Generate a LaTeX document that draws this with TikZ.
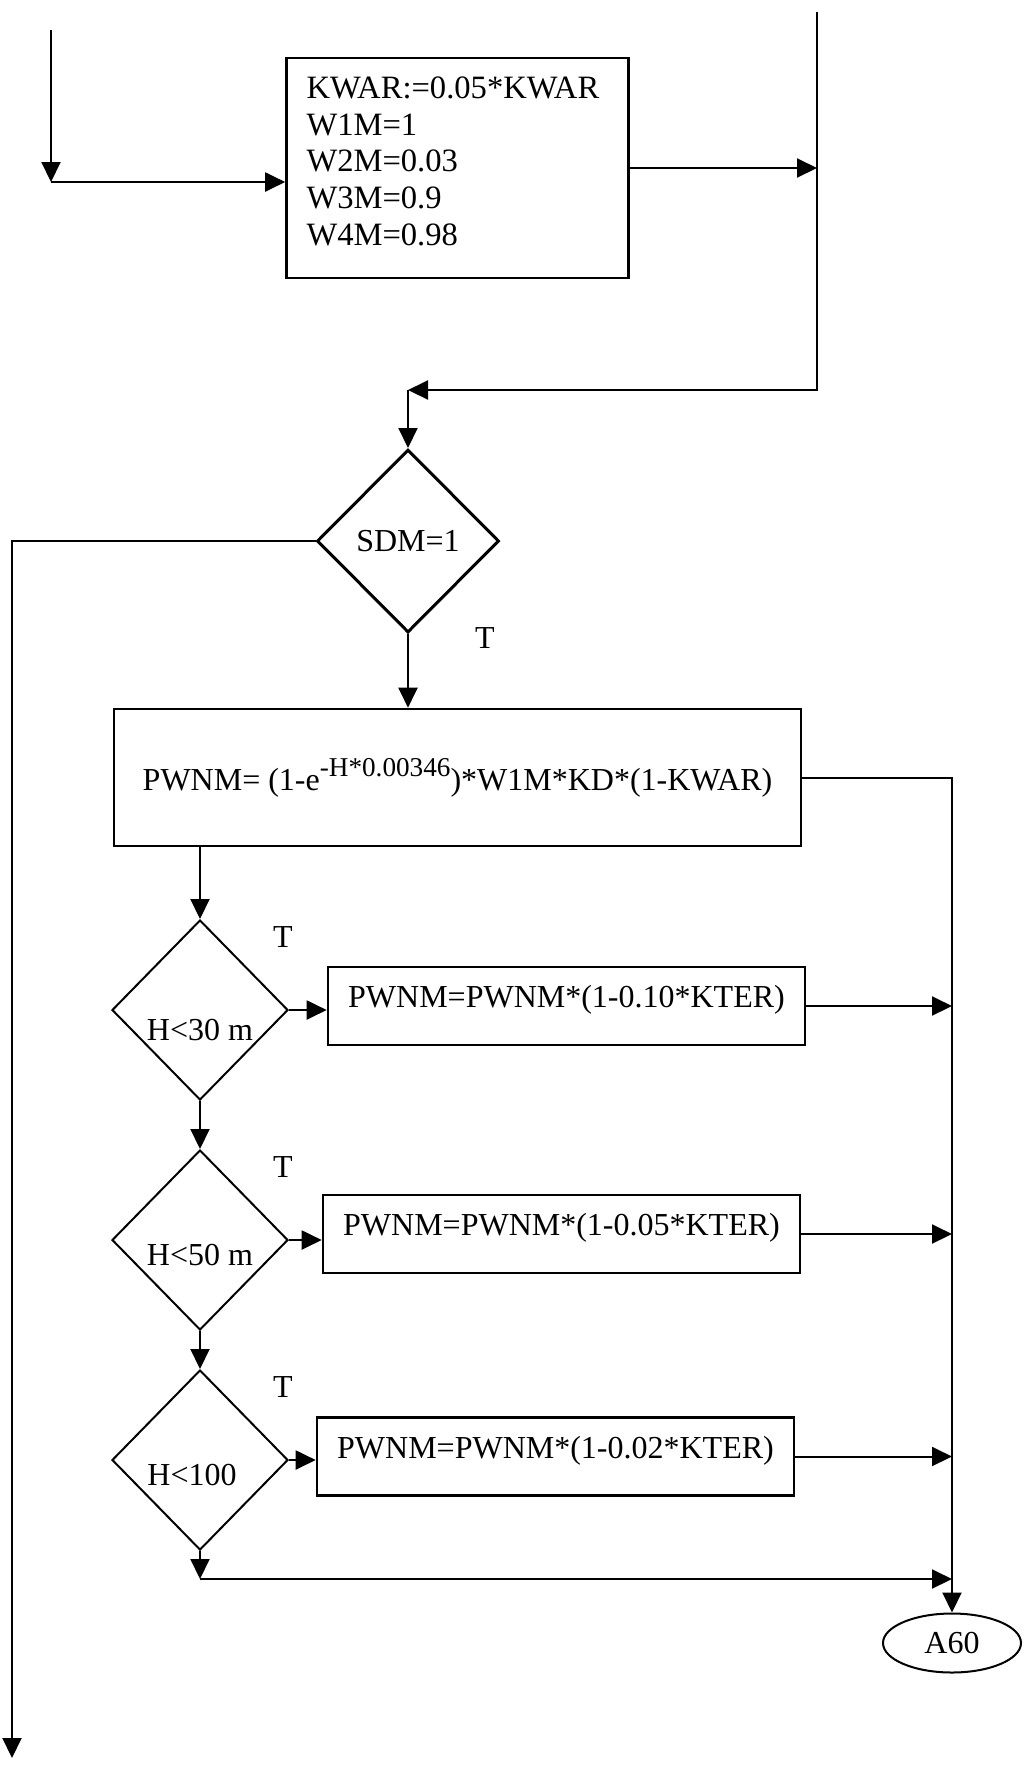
\documentclass[tikz,border=0pt]{standalone}
\usepackage{fontspec}
\setmainfont{Liberation Serif}
\usetikzlibrary{arrows.meta,positioning,shapes.geometric}
\newcommand{\liftby}[2]{\raisebox{#1}[\height][\depth]{#2}}

\begin{document}
\begin{tikzpicture}[x={(0.5pt,0)},y={(0,-0.5pt)},
  font=\fontsize{16}{18.3}\selectfont, line width=1pt,
  arr/.style={-{Triangle[length=10pt,width=9.5pt]}},
  opbox/.style={draw,rectangle,line width=1.3pt,inner sep=0pt},
  test/.style={draw,diamond,aspect=1,inner sep=0pt,minimum width=88pt,minimum height=90pt},
  tlbl/.style={inner sep=0pt}]
\useasboundingbox (0,0) rectangle (1027,1769);
% boxes and tests
\node[opbox,font=\fontsize{16.3}{18.4}\selectfont,minimum width=171pt,minimum height=110pt] (init) at (457.5,168)
  {\liftby{3.4pt}{\parbox{151pt}{\raggedright KWAR:=0.05*KWAR\\W1M=1\\W2M=0.03\\W3M=0.9\\W4M=0.98}}};
\node[test,line width=1.5pt,minimum width=91pt,minimum height=91.5pt] (sdm) at (408,541) {SDM=1};
\node[tlbl] (t0) at (485,638) {T};
\node[opbox,minimum width=343.5pt,minimum height=68.5pt] (pwnm) at (457.5,777.5) {PWNM= (1-e\raisebox{7pt}{\fontsize{13.6}{14}\selectfont -H*0.00346})*W1M*KD*(1-KWAR)};
\node[draw,ellipse,inner sep=0pt,minimum width=69pt,minimum height=29.5pt] (a60) at (952,1643) {A60};
\foreach \i/\y/\h/\s/\bx/\by/\k in {1/1010/{H<30 m}/{0pt,-10pt}/566.5/1006/0.10,2/1240/{H<50 m}/{0pt,-7.5pt}/561.5/1234/0.05,3/1460/{H<100}/{-4pt,-7.5pt}/555.5/1456.5/0.02} {
  \node[test,label={[shift={(\s)}]center:\h}] (h\i) at (200,\y) {};
  \node[opbox,minimum width=238.5pt,minimum height=39pt] (k\i) at (\bx,\by) {\liftby{3pt}{PWNM=PWNM*(1-\k*KTER)}};
  \node[tlbl] (t\i) at (283,\y-73) {T};
  \draw[arr] (h\i.east) -- (h\i.east -| k\i.west);
  \draw[arr] (k\i.east) -- (k\i.east -| a60.north);
}
% free ends
\coordinate (inL) at (51,30);
\coordinate (cornL) at (51,182);
\coordinate (inR) at (817,12);
\coordinate (cornR) at (817,390);
\coordinate (outL) at (12,1758);
\coordinate (join) at (200,1579);
% connectors
\draw[arr] (inL) -- (cornL);
\draw[arr] (cornL) -- (cornL -| init.west);
\draw[arr] (init.east) -- (init.east -| inR);
\draw[arr] (inR) -- (cornR) -- (cornR -| sdm.north);
\draw[arr] (cornR -| sdm.north) -- (sdm.north);
\draw[arr] (sdm.west) -- (sdm.west -| outL) -- (outL);
\draw[arr] (sdm.south) -- (sdm.south |- pwnm.north);
\draw[arr] (pwnm.east) -- (pwnm.east -| a60.north) -- (a60.north);
\draw[arr] (pwnm.south -| h1.north) -- (h1.north);
\foreach \a/\b in {h1/h2,h2/h3} {\draw[arr] (\a.south) -- (\b.north);}
\draw[arr] (h3.south) -- (join);
\draw[arr] (join) -- (join -| a60.north);
\end{tikzpicture}
\end{document}
